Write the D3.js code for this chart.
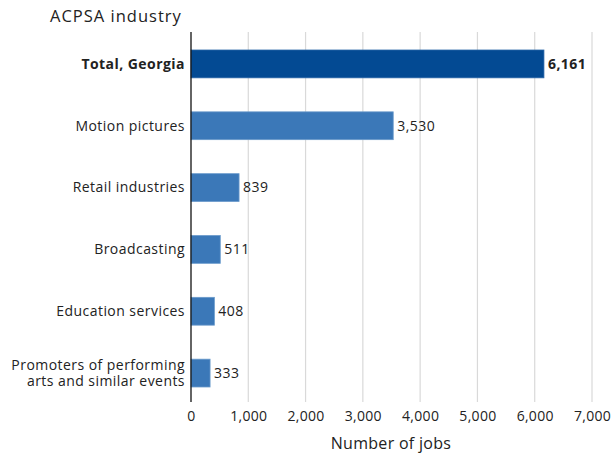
<!DOCTYPE html>
<html><head><meta charset="utf-8">
<script src="https://cdn.jsdelivr.net/npm/d3@7"></script>
<style>body{margin:0;background:#fff}svg{display:block}text{font-family:"Open Sans","Noto Sans",sans-serif}</style>
</head><body>
<svg id="c" width="615" height="454"></svg>
<script>
const categories = ["Total, Georgia","Motion pictures","Retail industries","Broadcasting","Education services","Promoters of performing|arts and similar events"];
const values = [6161,3530,839,511,408,333];
const tickValues = [0,1000,2000,3000,4000,5000,6000,7000];
const title = "ACPSA industry";
const xTitle = "Number of jobs";

(function(){
const FONT = "'Open Sans', 'Noto Sans', sans-serif";
const FS = 14, LS = 0.45;
const svg = d3.select("#c");
const mLeft = 191, mRight = 592, mTop = 32, mBottom = 402;
const x = d3.scaleLinear().domain([0,7000]).range([mLeft,mRight]);
const y = d3.scaleBand().domain(categories).range([mTop+1,mBottom+2]).paddingInner(0.55).paddingOuter(0.275);

svg.append("g").selectAll("line").data(tickValues.slice(1)).join("line")
  .attr("x1",d=>x(d)).attr("x2",d=>x(d)).attr("y1",mTop).attr("y2",mBottom)
  .attr("stroke","#d9d9d9").attr("stroke-width",1.2);

svg.append("g").selectAll("rect").data(categories).join("rect")
  .attr("x",x(0)).attr("y",d=>y(d)).attr("height",y.bandwidth())
  .attr("width",(d,i)=>x(values[i])-x(0))
  .attr("fill",(d,i)=>i===0?"#034a93":"#3b78b8")
  .attr("stroke",(d,i)=>i===0?"#2a66a8":"#6a9acb").attr("stroke-width",0.8);

svg.append("g").selectAll("text").data(categories).join("text")
  .attr("x",(d,i)=>x(values[i])+4).attr("y",d=>y(d)+y.bandwidth()/2)
  .attr("dy","0.35em").attr("font-size",FS).attr("letter-spacing",LS).attr("fill","#222")
  .attr("font-weight",(d,i)=>i===0?"bold":"normal")
  .text((d,i)=>d3.format(",")(values[i]));

const cl = svg.append("g").selectAll("text").data(categories).join("text")
  .attr("x",185).attr("y",d=>y(d)+y.bandwidth()/2)
  .attr("text-anchor","end").attr("font-size",FS).attr("letter-spacing",LS).attr("fill","#222")
  .attr("font-weight",(d,i)=>i===0?"bold":"normal");
cl.each(function(d){
  const parts = d.split("|");
  const t = d3.select(this);
  parts.forEach((p,j)=>{
    t.append("tspan").attr("x",185)
     .attr("dy", j===0 ? (0.35 - (parts.length-1)*0.6)+"em" : "1.2em").text(p);
  });
});

const ax = svg.append("g").attr("transform",`translate(0,${mBottom})`)
  .call(d3.axisBottom(x).tickValues(tickValues).tickFormat(d3.format(",")).tickSize(0).tickPadding(9));
ax.select(".domain").remove();
ax.selectAll("text").attr("font-size",FS).attr("letter-spacing",0.3).attr("fill","#222").style("font-family",FONT);

svg.append("line").attr("x1",x(0)).attr("x2",x(0)).attr("y1",mTop).attr("y2",mBottom).attr("stroke","#111").attr("stroke-width",1.3);

svg.append("text").attr("x",50).attr("y",22).attr("font-size",16.5).attr("letter-spacing",1).attr("fill","#222").text(title);
svg.append("text").attr("x",391).attr("y",449).attr("text-anchor","middle").attr("font-size",16).attr("letter-spacing",0.3).attr("fill","#222").text(xTitle);
})();
</script>
</body></html>
